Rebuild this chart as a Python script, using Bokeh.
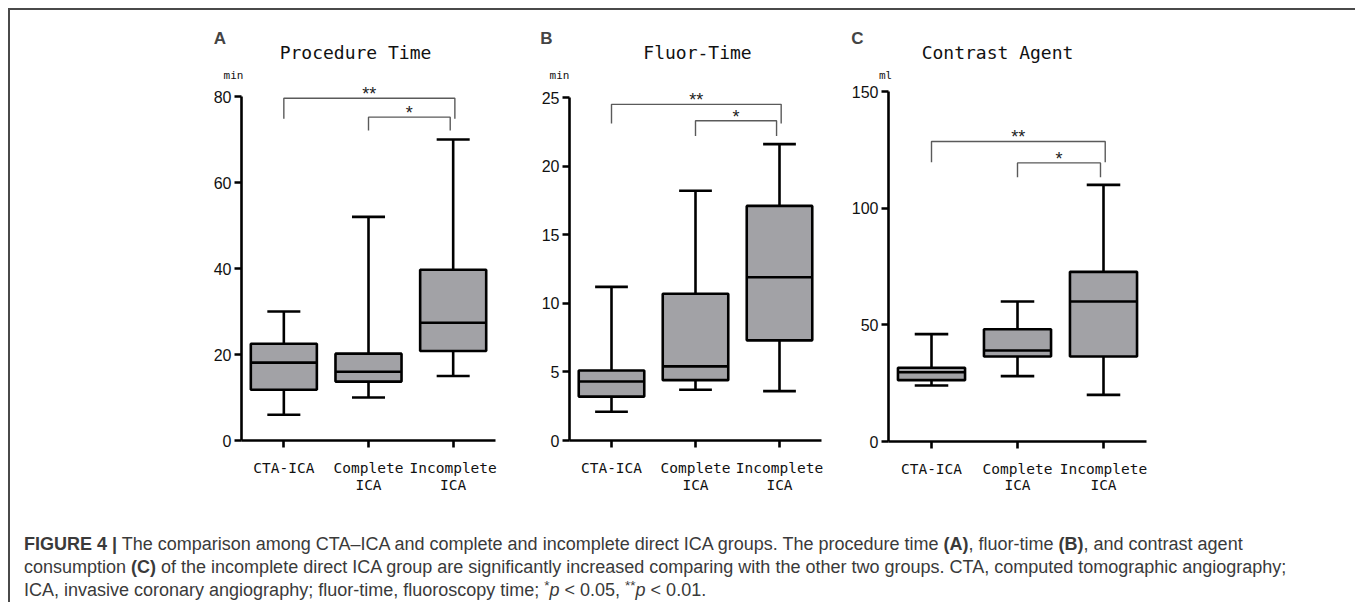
from bokeh.plotting import figure
from bokeh.models import (Range1d, FixedTicker, ColumnDataSource, Label, Div, LinearAxis,
                          Spacer)
from bokeh.layouts import row, column
from bokeh.transform import dodge
from bokeh.core.properties import value
from bokeh.embed import file_html
from bokeh.resources import INLINE

# ---------------- data ----------------
categories = ["CTA-ICA", "Complete ICA", "Incomplete ICA"]

proc_min = [6.0, 10.0, 15.0]
proc_q1 = [11.8, 13.7, 20.8]
proc_med = [18.1, 16.0, 27.4]
proc_q3 = [22.5, 20.2, 39.7]
proc_max = [30.0, 52.0, 70.0]
proc_ticks = [0, 20, 40, 60, 80]

fluor_min = [2.1, 3.7, 3.6]
fluor_q1 = [3.2, 4.4, 7.3]
fluor_med = [4.3, 5.4, 11.9]
fluor_q3 = [5.1, 10.7, 17.1]
fluor_max = [11.2, 18.2, 21.6]
fluor_ticks = [0, 5, 10, 15, 20, 25]

contrast_min = [24.0, 28.0, 20.0]
contrast_q1 = [26.3, 36.4, 36.4]
contrast_med = [29.7, 39.0, 60.0]
contrast_q3 = [31.6, 48.1, 72.7]
contrast_max = [46.0, 60.0, 110.0]
contrast_ticks = [0, 50, 100, 150]

# significance brackets
sig_from = ["CTA-ICA", "Complete ICA"]
sig_to = ["Incomplete ICA", "Incomplete ICA"]
sig_text = ["**", "*"]
proc_sig_top = [79.6, 75.2]
proc_sig_leg = [74.8, 72.1]
fluor_sig_top = [24.5, 23.3]
fluor_sig_leg = [23.1, 22.2]
contrast_sig_top = [128.6, 119.4]
contrast_sig_leg = [119.7, 113.3]

# ---------------- style ----------------
FILL = "#a2a2a6"
BOX_LW = 2.6
BRACKET_COLOR = "#5a5a5a"
MONO = "DejaVu Sans Mono"
SANS = "Liberation Sans"
FIG_TOP = 10
FIG_H = 518
RIGHT_SHIFT = {"**": 0.02, "*": -0.035}

xc = [i + 0.5 for i in range(len(categories))]
first_line = [c.split(" ")[0] for c in categories]
second_line = [c.split(" ", 1)[1] if " " in c else "" for c in categories]


def panel(letter, title, unit, ymax, ticks, mins, q1, med, q3, maxs,
          sig_top, sig_leg, fig_left, fig_w, L, B, cw, yu,
          letter_px, title_px, unit_px):
    fig_bottom = FIG_TOP + FIG_H
    p = figure(width=fig_w, height=FIG_H, output_backend="svg", toolbar_location=None,
               x_range=Range1d((fig_left - L) / cw, (fig_left + fig_w - L) / cw),
               y_range=Range1d((B - fig_bottom) / yu, (B - FIG_TOP) / yu),
               x_axis_type=None, y_axis_type=None, min_border=0)
    p.outline_line_color = None
    p.grid.grid_line_color = None
    p.background_fill_color = "white"
    p.border_fill_color = "white"

    def at(px, py):
        return (px - L) / cw, (B - py) / yu

    src = ColumnDataSource(dict(x=xc, mn=mins, q1=q1, med=med, q3=q3, mx=maxs,
                                l2=second_line))
    kw = dict(line_color="black", line_width=BOX_LW, source=src)
    p.segment(x0="x", x1="x", y0="q3", y1="mx", **kw)
    p.segment(x0="x", x1="x", y0="mn", y1="q1", **kw)
    p.segment(x0=dodge("x", -0.195), x1=dodge("x", 0.195), y0="mx", y1="mx", **kw)
    p.segment(x0=dodge("x", -0.195), x1=dodge("x", 0.195), y0="mn", y1="mn", **kw)
    p.vbar(x="x", width=0.78, bottom="q1", top="q3", fill_color=FILL, **kw)
    p.segment(x0=dodge("x", -0.39), x1=dodge("x", 0.39), y0="med", y1="med", **kw)

    # significance brackets
    xs, ys = [], []
    for f, t, top, leg, s in zip(sig_from, sig_to, sig_top, sig_leg, sig_text):
        x0 = xc[categories.index(f)]
        x1 = xc[categories.index(t)] + RIGHT_SHIFT[s]
        xs.append([x0, x0, x1, x1])
        ys.append([leg, top, top, leg])
        p.add_layout(Label(x=(x0 + x1) / 2, y=top + 4.0 / yu, text=s,
                           text_font=SANS, text_font_size="18px", text_color="#222222",
                           text_align="center", text_baseline="middle"))
    p.multi_line(xs, ys, line_color=BRACKET_COLOR, line_width=1.4)

    # axes
    ya = LinearAxis(fixed_location=0, bounds=(0, ymax), ticker=FixedTicker(ticks=ticks))
    ya.minor_tick_line_color = None
    ya.axis_line_width = BOX_LW
    ya.major_tick_line_width = BOX_LW
    ya.major_tick_out = 7
    ya.major_tick_in = 0
    ya.major_label_standoff = 3
    ya.major_label_text_font = SANS
    ya.major_label_text_font_size = "16px"
    ya.major_label_text_color = "#111111"
    p.add_layout(ya, "left")

    xa = LinearAxis(fixed_location=0, bounds=(0, len(categories)),
                    ticker=FixedTicker(ticks=xc))
    xa.major_label_overrides = {x: s for x, s in zip(xc, first_line)}
    xa.minor_tick_line_color = None
    xa.axis_line_width = BOX_LW
    xa.major_tick_line_width = BOX_LW
    xa.major_tick_out = 7
    xa.major_tick_in = 0
    xa.major_label_standoff = 12
    xa.major_label_text_font = MONO
    xa.major_label_text_font_size = "14.5px"
    xa.major_label_text_color = "#111111"
    p.add_layout(xa, "below")

    # second line of the two-line category names
    p.text(x="x", y=(B - 484) / yu, text="l2", source=src, text_font=value(MONO),
           text_font_size="14.5px", text_color="#111111", text_align="center",
           text_baseline="middle")

    lx, ly = at(*letter_px)
    p.add_layout(Label(x=lx, y=ly, text=letter, text_font=SANS, text_font_size="17px",
                       text_font_style="bold", text_align="center", text_baseline="middle"))
    tx, ty = at(*title_px)
    p.add_layout(Label(x=tx, y=ty, text=title, text_font=MONO, text_font_size="18px",
                       text_color="#111111", text_align="center", text_baseline="middle"))
    ux, uy = at(*unit_px)
    p.add_layout(Label(x=ux, y=uy, text=unit, text_font=MONO, text_font_size="11px",
                       text_color="#111111", text_align="center", text_baseline="middle"))
    return p


pA = panel("A", "Procedure Time", "min", 80, proc_ticks, proc_min, proc_q1, proc_med,
           proc_q3, proc_max, proc_sig_top, proc_sig_leg,
           fig_left=10, fig_w=518, L=241, B=440, cw=84.67, yu=344 / 80,
           letter_px=(219.5, 37.5), title_px=(355, 52), unit_px=(233, 75))
pB = panel("B", "Fluor-Time", "min", 25, fluor_ticks, fluor_min, fluor_q1, fluor_med,
           fluor_q3, fluor_max, fluor_sig_top, fluor_sig_leg,
           fig_left=528, fig_w=318, L=569, B=440, cw=84.0, yu=343 / 25,
           letter_px=(546, 37.5), title_px=(697, 52), unit_px=(559, 75))
pC = panel("C", "Contrast Agent", "ml", 150, contrast_ticks, contrast_min, contrast_q1,
           contrast_med, contrast_q3, contrast_max, contrast_sig_top, contrast_sig_leg,
           fig_left=846, fig_w=501, L=888, B=441, cw=86.0, yu=350 / 150,
           letter_px=(857, 37.5), title_px=(997, 52), unit_px=(885, 75))

SUP = '<span style="font-size:0.75em; vertical-align:0.45em; line-height:0">{}</span>'
caption_html = (
    "<b>FIGURE 4 |</b> The comparison among CTA&ndash;ICA and complete and incomplete direct ICA "
    "groups. The procedure time <b>(A)</b>, fluor-time <b>(B)</b>, and contrast agent<br>"
    "consumption <b>(C)</b> of the incomplete direct ICA group are significantly increased "
    "comparing with the other two groups. CTA, computed tomographic angiography;<br>"
    "ICA, invasive coronary angiography; fluor-time, fluoroscopy time; "
    + SUP.format("*") + "<i>p</i> &lt; 0.05, " + SUP.format("**") + "<i>p</i> &lt; 0.01."
)
caption = Div(text=caption_html, width=1337, height=64,
              styles={"font-family": "Liberation Sans", "font-size": "18px",
                      "line-height": "23px", "color": "#3a3a3a",
                      "padding-left": "9px", "white-space": "nowrap"})

boxed = column(row(pA, pB, pC), caption,
               styles={"border-top": "2px solid #4a4a4a", "border-left": "2px solid #4a4a4a",
                       "background-color": "white"})
layout = column(Spacer(height=8), row(Spacer(width=8), boxed))

open("out.html", "w").write(file_html(layout, INLINE))
